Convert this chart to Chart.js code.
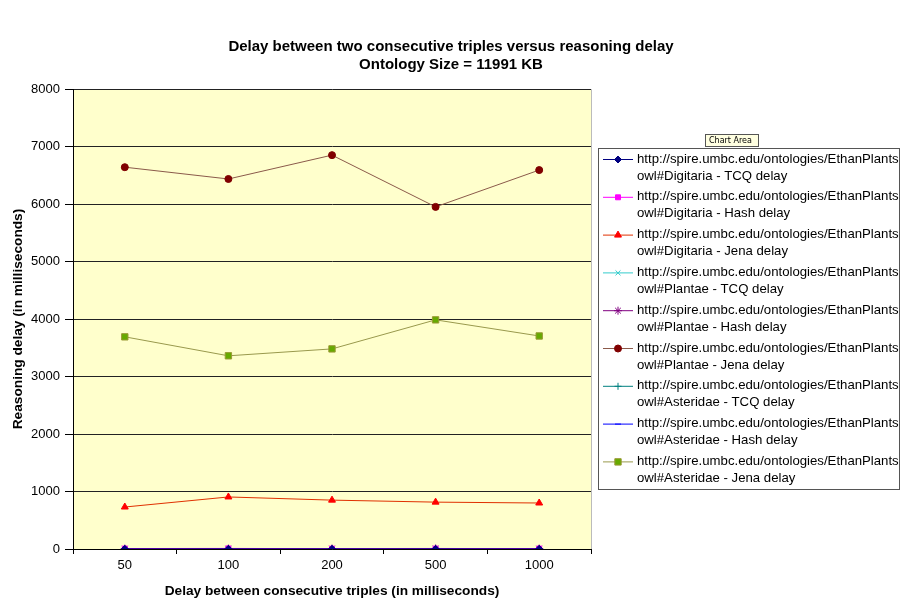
<!DOCTYPE html>
<html>
<head>
<meta charset="utf-8">
<script src="https://cdn.jsdelivr.net/npm/chart.js@4"></script>
<style>
  html, body { margin: 0; padding: 0; background: #fff; }
  #wrap { width: 901px; height: 601px; }
</style>
</head>
<body>
<div id="wrap"><canvas id="chart" width="901" height="601"></canvas></div>
<script>
var delays = ["50", "100", "200", "500", "1000"];
var yTicks = [0, 1000, 2000, 3000, 4000, 5000, 6000, 7000, 8000];

var digitariaTcq = [3, 4, 3, 4, 3];
var digitariaHash = [8, 10, 6, 7, 8];
var digitariaJena = [730, 905, 850, 815, 800];
var plantaeTcq = [2, 3, 2, 3, 2];
var plantaeHash = [6, 7, 8, 9, 7];
var plantaeJena = [6640, 6435, 6850, 5950, 6590];
var asteridaeTcq = [2, 3, 3, 2, 3];
var asteridaeHash = [5, 6, 5, 6, 5];
var asteridaeJena = [3690, 3360, 3480, 3985, 3705];

var titleLines = [
  "Delay between two consecutive triples versus reasoning delay",
  "Ontology Size = 11991 KB"
];
var prefix = "http://spire.umbc.edu/ontologies/EthanPlants";
var seriesNames = [
  "owl#Digitaria - TCQ delay",
  "owl#Digitaria - Hash delay",
  "owl#Digitaria - Jena delay",
  "owl#Plantae - TCQ delay",
  "owl#Plantae - Hash delay",
  "owl#Plantae - Jena delay",
  "owl#Asteridae - TCQ delay",
  "owl#Asteridae - Hash delay",
  "owl#Asteridae - Jena delay"
];

var FONT = "'Liberation Sans', Arial, sans-serif";

function ds(i, data, line, fill, edge, style, r) {
  return {
    label: prefix + " " + seriesNames[i],
    data: data,
    borderColor: line,
    backgroundColor: fill,
    pointBackgroundColor: fill,
    pointBorderColor: edge,
    pointBorderWidth: 1,
    pointStyle: style,
    pointRadius: r,
    borderWidth: 1,
    tension: 0
  };
}

var datasets = [
  ds(0, digitariaTcq, "#000080", "#000080", "#000080", "rectRot", 3.5),
  ds(1, digitariaHash, "#FF00FF", "#FF00FF", "#FF00FF", "rect", 3.5),
  ds(2, digitariaJena, "#E03000", "#FF0000", "#FF0000", "triangle", 4),
  ds(3, plantaeTcq, "#33CCCC", "#33CCCC", "#33CCCC", "crossRot", 3.5),
  ds(4, plantaeHash, "#800080", "#800080", "#800080", "star", 4),
  ds(5, plantaeJena, "#8B5A4A", "#800000", "#800000", "circle", 3.5),
  ds(6, asteridaeTcq, "#008080", "#008080", "#008080", "cross", 3.5),
  ds(7, asteridaeHash, "#0000FF", "#0000FF", "#0000FF", "line", 3),
  ds(8, asteridaeJena, "#99994D", "#66AA00", "#999933", "rect", 4.5)
];

// yellow plot area with a grey frame
var plotBg = {
  id: "plotBg",
  beforeDraw: function (chart) {
    var a = chart.chartArea, ctx = chart.ctx;
    ctx.save();
    ctx.fillStyle = "#FFFFCC";
    ctx.fillRect(a.left, a.top, a.right - a.left, a.bottom - a.top);
    ctx.strokeStyle = "#BBBBBB";
    ctx.lineWidth = 1;
    ctx.beginPath();
    ctx.moveTo(a.left, a.top + 0.5);
    ctx.lineTo(a.right + 0.5, a.top + 0.5);
    ctx.lineTo(a.right + 0.5, a.bottom);
    ctx.stroke();
    ctx.restore();
  }
};

// title centred on the whole picture, not on the plot
var pageTitle = {
  id: "pageTitle",
  afterDraw: function (chart) {
    var ctx = chart.ctx;
    ctx.save();
    ctx.fillStyle = "#000";
    ctx.font = "bold 15px " + FONT;
    ctx.textAlign = "center";
    ctx.textBaseline = "middle";
    titleLines.forEach(function (t, i) {
      ctx.fillText(t, 451, 46.5 + i * 18);
    });
    ctx.restore();
  }
};

// two-line legend box on the right, like the Excel one
var sideLegend = {
  id: "sideLegend",
  afterDraw: function (chart) {
    var ctx = chart.ctx;
    var bx = 598.5, by = 148.5, bw = 301, bh = 341;
    ctx.save();
    ctx.fillStyle = "#fff";
    ctx.fillRect(bx, by, bw, bh);
    ctx.strokeStyle = "#555";
    ctx.lineWidth = 1;
    ctx.strokeRect(bx, by, bw, bh);

    ctx.font = "13.2px " + FONT;
    ctx.textBaseline = "middle";
    ctx.textAlign = "left";
    chart.data.datasets.forEach(function (d, i) {
      var y = 159 + i * 37.8;
      ctx.strokeStyle = d.borderColor;
      ctx.lineWidth = 1;
      ctx.beginPath();
      ctx.moveTo(603, y + 0.5);
      ctx.lineTo(633, y + 0.5);
      ctx.stroke();
      ctx.fillStyle = d.pointBackgroundColor;
      ctx.strokeStyle = d.pointBorderColor;
      Chart.helpers.drawPoint(ctx, {
        pointStyle: d.pointStyle,
        radius: d.pointRadius,
        rotation: 0,
        borderWidth: 1
      }, 618, y + 0.5);
      ctx.fillStyle = "#000";
      ctx.fillText(prefix, 637, y);
      ctx.fillText(seriesNames[i], 637, y + 17);
    });

    // "Chart Area" hover tip
    ctx.fillStyle = "#FFFFE1";
    ctx.fillRect(705.5, 134.5, 53, 12);
    ctx.strokeStyle = "#555";
    ctx.strokeRect(705.5, 134.5, 53, 12);
    ctx.fillStyle = "#000";
    ctx.font = "8px 'DejaVu Sans', sans-serif";
    ctx.fillText("Chart Area", 709, 141);
    ctx.restore();
  }
};

var ctx = document.getElementById("chart").getContext("2d");
var myChart = new Chart(ctx, {
  type: "line",
  data: { labels: delays, datasets: datasets },
  plugins: [plotBg, pageTitle, sideLegend],
  options: {
    responsive: false,
    animation: false,
    layout: { padding: { left: 0, right: 310, top: 89, bottom: 0 } },
    plugins: {
      legend: { display: false },
      tooltip: { enabled: false },
      title: { display: false }
    },
    scales: {
      x: {
        offset: true,
        grid: { offset: true, drawOnChartArea: false, color: "#000", tickLength: 5, tickColor: "#000" },
        border: { color: "#000" },
        ticks: {
          color: "#000",
          padding: 4,
          font: { family: FONT, size: 13 }
        },
        title: {
          display: true,
          text: "Delay between consecutive triples (in milliseconds)",
          color: "#000",
          font: { family: FONT, size: 13.7, weight: "bold" },
          padding: { top: 4, bottom: 2 }
        },
        afterFit: function (s) { s.height = 52; }
      },
      y: {
        min: yTicks[0],
        max: yTicks[yTicks.length - 1],
        afterBuildTicks: function (s) {
          s.ticks = yTicks.map(function (v) { return { value: v }; });
        },
        grid: { color: "#222", tickLength: 8, tickColor: "#000" },
        border: { color: "#000" },
        ticks: {
          color: "#000",
          padding: 5,
          font: { family: FONT, size: 13 },
          callback: function (v) { return String(v); }
        },
        title: {
          display: true,
          text: "Reasoning delay (in milliseconds)",
          color: "#000",
          font: { family: FONT, size: 13.7, weight: "bold" },
          padding: { top: 10, bottom: 0 }
        },
        afterFit: function (s) { s.width = 73; }
      }
    }
  }
});
</script>
</body>
</html>
